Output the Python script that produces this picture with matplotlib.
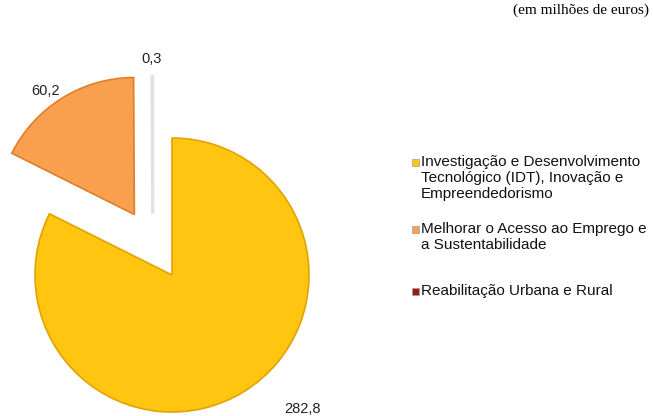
import matplotlib
matplotlib.use("Agg")
import numpy as np
import matplotlib.pyplot as plt
from matplotlib.patches import Rectangle
from matplotlib.transforms import Affine2D

categories = [
    "Investigação e Desenvolvimento\nTecnológico (IDT), Inovação e\nEmpreendedorismo",
    "Melhorar o Acesso ao Emprego e\na Sustentabilidade",
    "Reabilitação Urbana e Rural",
]
values = [282.8, 60.2, 0.3]
value_labels = ["282,8", "60,2", "0,3"]
colors = ["#FFC510", "#F9A04E", "#9B1B1B"]
edge_colors = ["#E3A200", "#E07E2A", "#E2E2E2"]
explode = [0, 0.52, 0.45]

plt.rcParams['font.family'] = ['Liberation Sans', 'DejaVu Sans']

W, H = 653, 416
fig = plt.figure(figsize=(W / 100, H / 100), dpi=100)

# pie axes: centre at (172, 275) px, radius ~137 px
cx, cy, r = 172, 275, 137
ax = fig.add_axes([0, 0, 400 / W, 1])

wedges, _ = ax.pie(values, colors=colors, explode=explode, startangle=90,
                   counterclock=False, radius=1,
                   wedgeprops=dict(linewidth=1.2))
for w, ec in zip(wedges, edge_colors):
    w.set_edgecolor(ec)
wedges[2].set_linewidth(2.2)
# the tiny slice sits a bit to the left in the original
wedges[2].set_transform(Affine2D().translate(-0.14, 0) + ax.transData)

ax.set_aspect('auto')
ax.set_xlim(-cx / r, (400 - cx) / r)
ax.set_ylim((cy - H) / r, cy / r)
ax.axis('off')

# value labels
label_pos = [(0.95, -0.98), (-0.92, 1.34), (-0.15, 1.58)]
for (x, y), txt in zip(label_pos, value_labels):
    ax.text(x, y, txt, ha='center', va='center', fontsize=10.5, color='#222222')

# legend (manual, to keep uneven spacing)
entry_y = [163, 230, 292]
for lab, col, y in zip(categories, colors, entry_y):
    fig.add_artist(Rectangle((412 / W, 1 - (y + 3) / H), 7 / W, 7 / H,
                             transform=fig.transFigure, facecolor=col,
                             edgecolor='#A0A0A0', linewidth=0.5))
    fig.text(421 / W, 1 - (y - 8) / H, lab, ha='left', va='top',
             fontsize=11, linespacing=1.17, color='#111111')

fig.text(649 / W, 1 - 10 / H, "(em milhões de euros)", ha='right', va='center',
         fontsize=11, family=['Liberation Serif', 'DejaVu Serif'])

fig.savefig("out.png", dpi=100)
